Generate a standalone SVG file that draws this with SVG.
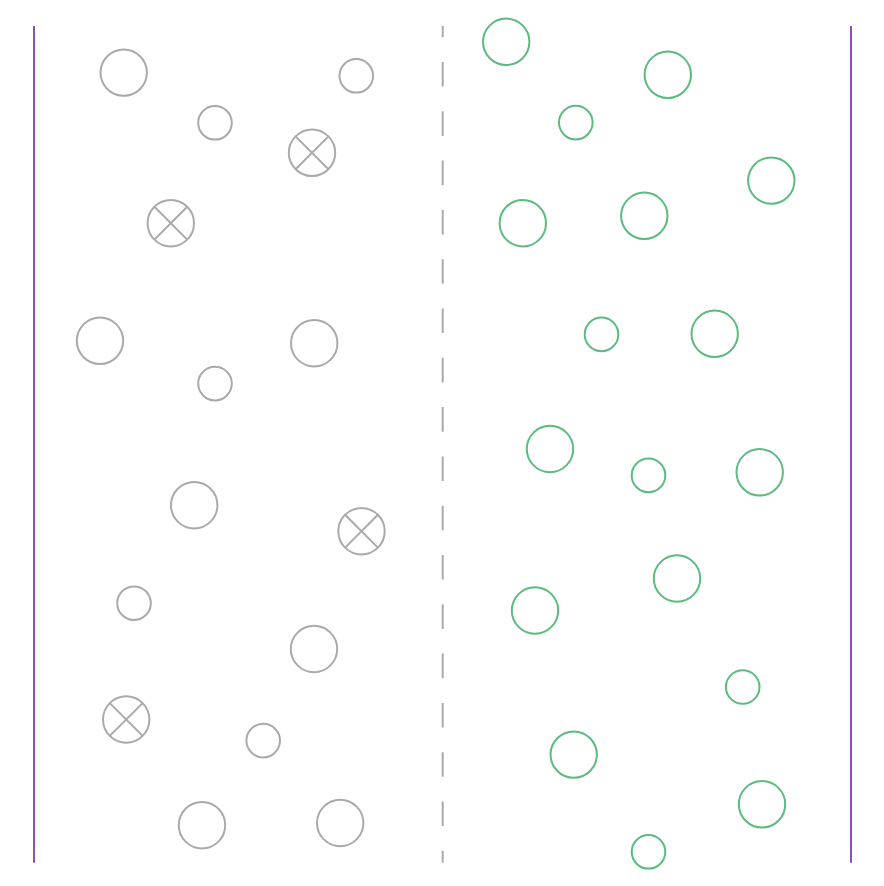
<svg xmlns="http://www.w3.org/2000/svg" width="884" height="886" viewBox="0 0 884 886">
<style>
.g{fill:none;stroke:#aaaaaa;stroke-width:2}
.n{fill:none;stroke:#5cbb7f;stroke-width:2}
.w{stroke:#8e4fb8;stroke-width:2}
.d{stroke:#aaaaaa;stroke-width:2;stroke-dasharray:24.6 24.7;stroke-dashoffset:13.3}
</style>
<defs>
<g id="x"><circle class="g" r="23.2"/><path class="g" d="M-16.4,-16.4L16.4,16.4M16.4,-16.4L-16.4,16.4"/></g>
</defs>
<rect width="884" height="886" fill="#ffffff"/>
<g id="walls">
<line class="w" x1="34" y1="26" x2="34" y2="862.7"/>
<line class="w" x1="851" y1="26" x2="851" y2="862.7"/>
<line class="d" x1="442.7" y1="26" x2="442.7" y2="862.7"/>
</g>
<g id="gray">
<circle class="g" cx="123.7" cy="72.6" r="23.2"/>
<circle class="g" cx="215" cy="122.8" r="16.8"/>
<circle class="g" cx="356.3" cy="75.8" r="16.8"/>
<use href="#x" x="312" y="152.8"/>
<use href="#x" x="170.8" y="223.2"/>
<circle class="g" cx="100" cy="340.8" r="23.2"/>
<circle class="g" cx="314.2" cy="343.2" r="23.2"/>
<circle class="g" cx="215" cy="383.6" r="16.8"/>
<circle class="g" cx="194.2" cy="505.2" r="23.2"/>
<use href="#x" x="361.5" y="531.2"/>
<circle class="g" cx="134" cy="603.2" r="16.8"/>
<circle class="g" cx="314" cy="649" r="23.2"/>
<use href="#x" x="126.2" y="719.5"/>
<circle class="g" cx="263.2" cy="740.6" r="16.8"/>
<circle class="g" cx="202" cy="825.2" r="23.2"/>
<circle class="g" cx="340.2" cy="823" r="23.2"/>
</g>
<g id="green">
<circle class="n" cx="506.2" cy="41.8" r="23.2"/>
<circle class="n" cx="667.8" cy="74.8" r="23.2"/>
<circle class="n" cx="575.8" cy="122.6" r="16.8"/>
<circle class="n" cx="771.3" cy="180.6" r="23.2"/>
<circle class="n" cx="522.8" cy="223.2" r="23.2"/>
<circle class="n" cx="644.3" cy="215.8" r="23.2"/>
<circle class="n" cx="601.5" cy="334.4" r="16.8"/>
<circle class="n" cx="714.7" cy="333.8" r="23.2"/>
<circle class="n" cx="550" cy="449" r="23.2"/>
<circle class="n" cx="648.5" cy="475.4" r="16.8"/>
<circle class="n" cx="759.7" cy="472.3" r="23.2"/>
<circle class="n" cx="677" cy="578.5" r="23.2"/>
<circle class="n" cx="535" cy="610.5" r="23.2"/>
<circle class="n" cx="742.7" cy="687" r="16.8"/>
<circle class="n" cx="573.7" cy="754.6" r="23.2"/>
<circle class="n" cx="762" cy="804.3" r="23.2"/>
<circle class="n" cx="648.5" cy="851.8" r="16.8"/>
</g>
</svg>
